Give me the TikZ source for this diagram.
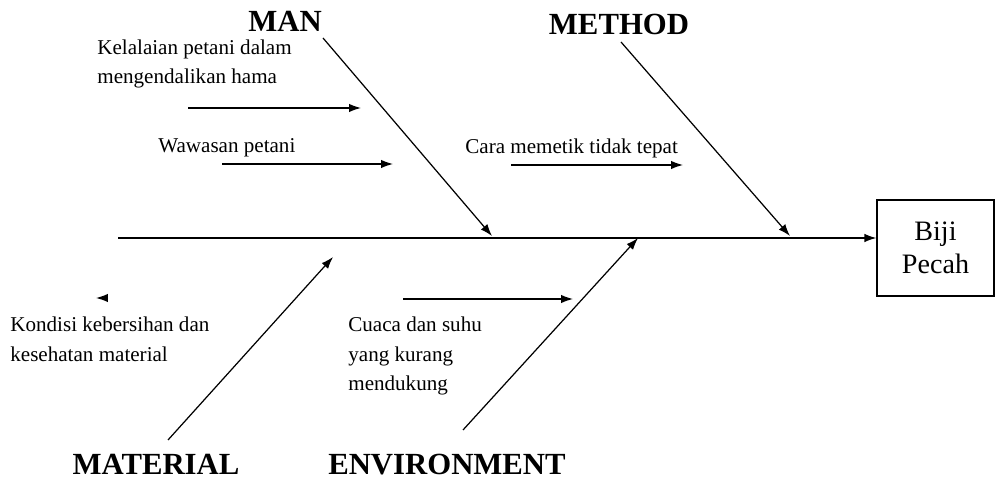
\documentclass[tikz,border=0pt]{standalone}
\usepackage{fontspec}
\setmainfont{Liberation Serif}
\usetikzlibrary{arrows.meta}
\tikzset{
  bone/.style={line width=0.7pt,-{Latex[length=2.4mm,width=1.7mm]}},
  cause/.style={font=\fontsize{12}{17}\selectfont,align=left,anchor=west,inner sep=0pt},
  head/.style={font=\fontsize{17.5}{20}\selectfont\bfseries,inner sep=0pt,anchor=base},
}
\begin{document}
\begin{tikzpicture}[x=0.02cm,y=-0.02cm]
  \useasboundingbox (0,0) rectangle (998,482);
  % kepala ikan
  \node[draw,line width=0.7pt,minimum width=2.34cm,minimum height=1.92cm,align=center,
        font=\fontsize{16}{19}\selectfont] (effect) at (935.5,248) {Biji\\Pecah};
  \coordinate (spineL) at (118,238);
  \draw[bone] (spineL) -- (spineL -| effect.west);
  % kategori
  \node[head] (man) at (285,32) {MAN};
  \node[head] (method) at (619,35) {METHOD};
  \node[head] (material) at (156,475) {MATERIAL};
  \node[head] (env) at (447,475) {ENVIRONMENT};
  \coordinate (manS) at (323,38);   \coordinate (manE) at (492,236);
  \coordinate (metS) at (621,42);   \coordinate (metE) at (790,236);
  \coordinate (matS) at (168,440);  \coordinate (matE) at (333,257);
  \coordinate (envS) at (463,430);  \coordinate (envE) at (638,238);
  \draw[bone] (manS) -- (manE);
  \draw[bone] (metS) -- (metE);
  \draw[bone] (matS) -- (matE);
  \draw[bone] (envS) -- (envE);
  % sebab
  \node[cause] (c1) at (97,64) {Kelalaian petani dalam\\mengendalikan hama};
  \coordinate (c1S) at (188,108); \coordinate (c1E) at (361,108);
  \draw[bone] (c1S) -- (c1E);
  \node[cause] (c2) at (158,148) {Wawasan petani};
  \coordinate (c2S) at (222,164); \coordinate (c2E) at (393,164);
  \draw[bone] (c2S) -- (c2E);
  \node[cause] (c3) at (465,148) {Cara memetik tidak tepat};
  \coordinate (c3S) at (511,165); \coordinate (c3E) at (683,165);
  \draw[bone] (c3S) -- (c3E);
  \coordinate (c4S) at (108,298); \coordinate (c4E) at (96,298);
  \draw[bone] (c4S) -- (c4E);
  \node[cause] (c4) at (10,339) {Kondisi kebersihan dan\\kesehatan material};
  \coordinate (c5S) at (403,299); \coordinate (c5E) at (573,299);
  \draw[bone] (c5S) -- (c5E);
  \node[cause] (c5) at (348,356) {Cuaca dan suhu\\yang kurang\\mendukung};
\end{tikzpicture}
\end{document}
